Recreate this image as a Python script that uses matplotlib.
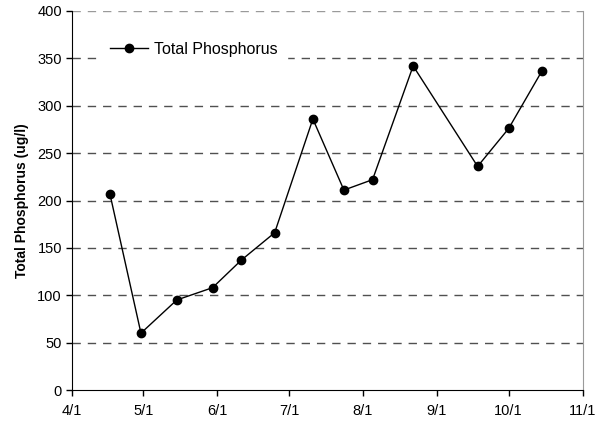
import datetime as dt
import matplotlib
matplotlib.use('Agg')
import matplotlib.pyplot as plt
import matplotlib.dates as mdates

# sample dates and total phosphorus values (ug/l)
dates = ['2005-04-17', '2005-04-30', '2005-05-15', '2005-05-30', '2005-06-11',
         '2005-06-25', '2005-07-11', '2005-07-24', '2005-08-05', '2005-08-22',
         '2005-09-18', '2005-10-01', '2005-10-15']
tp = [207, 60, 95, 108, 137, 166, 286, 211, 222, 342, 236, 276, 337]
tick_dates = ['2005-04-01', '2005-05-01', '2005-06-01', '2005-07-01',
              '2005-08-01', '2005-09-01', '2005-10-01', '2005-11-01']

plt.rcParams['font.family'] = ['Liberation Sans', 'DejaVu Sans']

x = [dt.datetime.strptime(d, '%Y-%m-%d') for d in dates]
xt = [dt.datetime.strptime(d, '%Y-%m-%d') for d in tick_dates]

fig = plt.figure(figsize=(6.13, 4.32), dpi=100)
ax = fig.add_axes([71.7/613, 1 - 390/432, 511/613, 379/432])

for v in range(50, 401, 50):
    ax.axhline(v, color='#9a9a9a' if v == 400 else '#505050', lw=1,
               dashes=(6, 5), zorder=1)

ax.plot(x, tp, color='black', lw=1, marker='o', markersize=6,
        label='Total Phosphorus', zorder=3)

ax.set_xlim(xt[0], xt[-1])
ax.set_ylim(0, 400)
ax.set_xticks(xt)
ax.xaxis.set_major_formatter(mdates.DateFormatter('%-m/%-d'))
ax.set_yticks(range(0, 401, 50))
ax.tick_params(axis='both', labelsize=10.5, direction='out', length=4, width=1)
ax.tick_params(axis='x', pad=6)
ax.tick_params(axis='y', pad=3)

ax.spines['top'].set_visible(False)
ax.spines['right'].set_color('#9a9a9a')
ax.spines['left'].set_color('black')
ax.spines['bottom'].set_color('black')

ax.set_ylabel('Total Phosphorus (ug/l)', fontsize=10, fontweight='bold', labelpad=6)

leg = ax.legend(loc='upper left', bbox_to_anchor=(0.04, 0.965), fontsize=11.5,
                frameon=True, framealpha=1, edgecolor='white', fancybox=False,
                handlelength=2.4, borderpad=0.6, handletextpad=0.35)
leg.set_zorder(5)

fig.savefig('out.png', dpi=100)
